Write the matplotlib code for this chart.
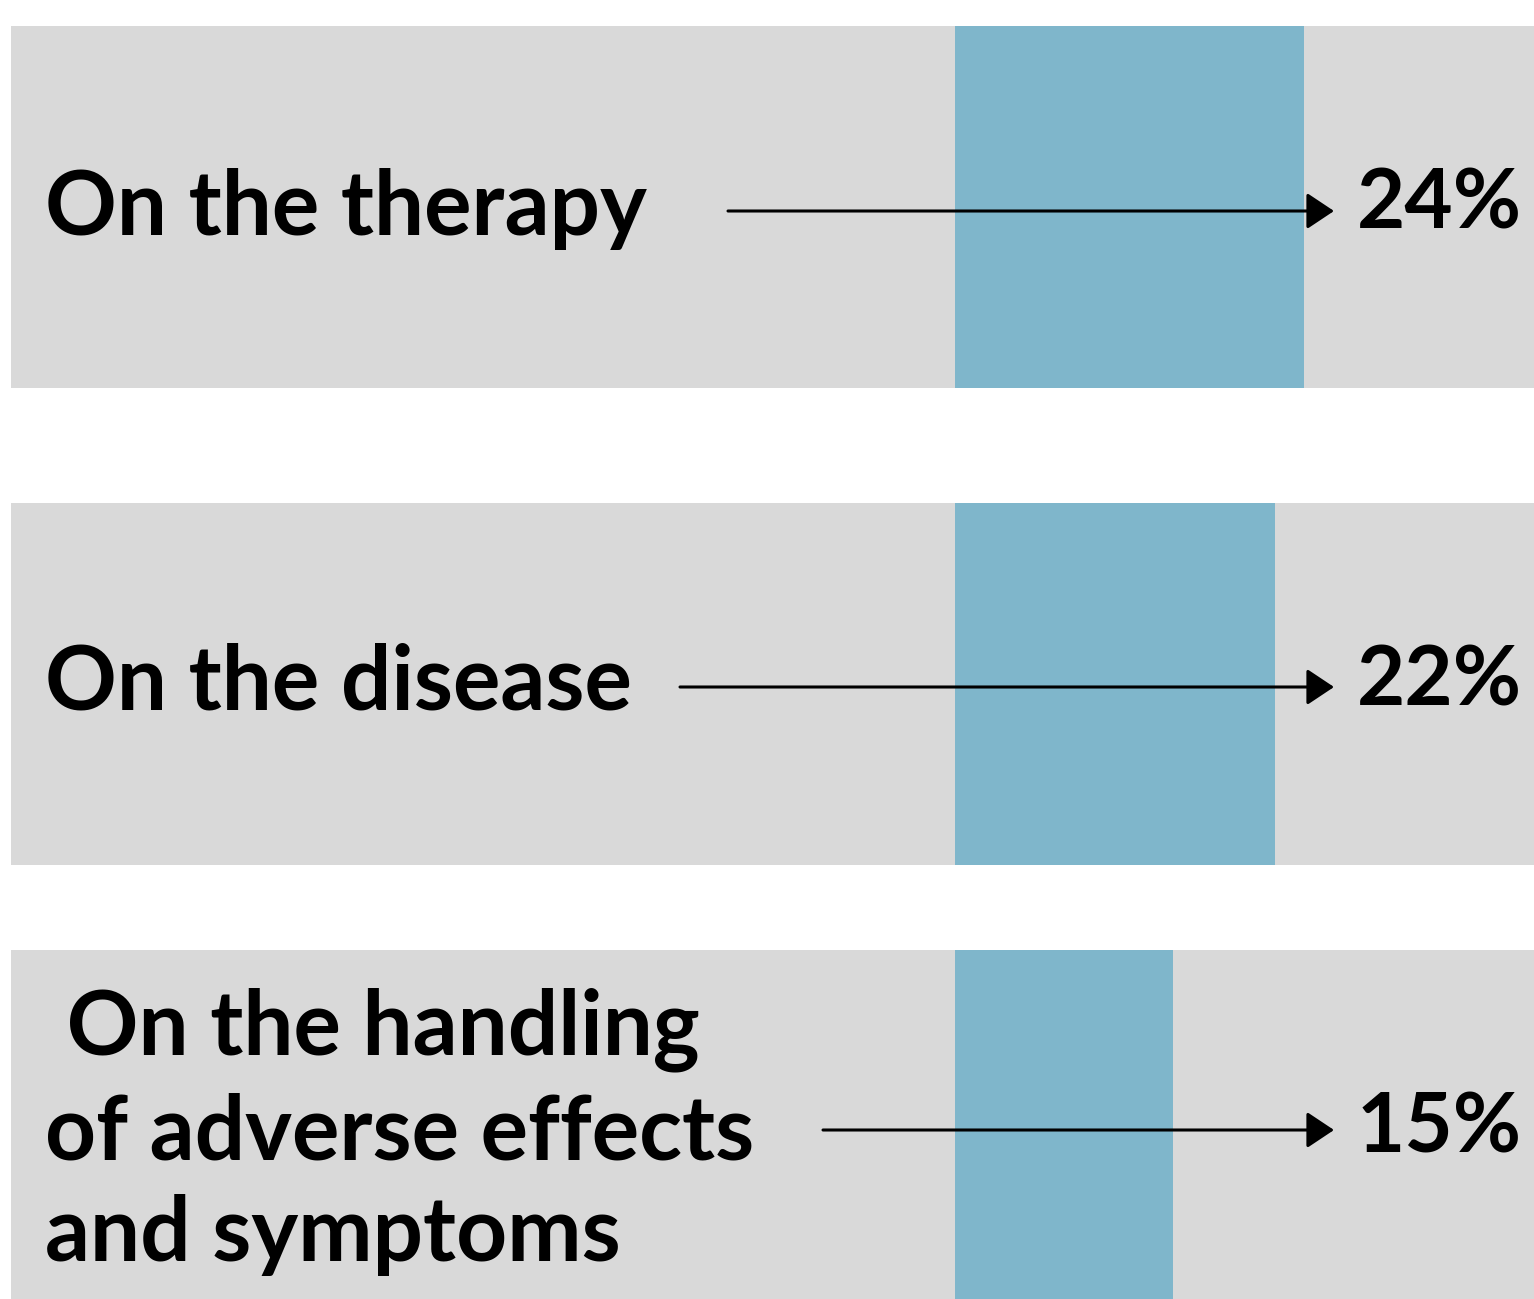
import matplotlib.pyplot as plt

# data
labels = ["On the therapy", "On the disease",
          " On the handling\nof adverse effects\nand symptoms"]
values = [24, 22, 15]
value_labels = ["24%", "22%", "15%"]

# layout (pixel space of a 1534x1299 canvas, 0% sits at x=955)
W, H = 1534, 1299
x0 = 955
px_per_pct = 14.54
row_y = [207, 684, 1131]
row_h = 362
arrow_start = [728, 680, 823]
arrow_dy = [4, 3, -1]
label_dy = [2, -1, 1]

grey = '#d9d9d9'
blue = '#7fb6cb'

plt.rcParams['font.family'] = ['Lato', 'DejaVu Sans']

fig = plt.figure(figsize=(W / 100, H / 100), dpi=100)
ax = fig.add_axes([0, 0, 1, 1])
ax.set_xlim(-x0 / px_per_pct, (W - x0) / px_per_pct)
ax.set_ylim(H, 0)
ax.axis('off')

def px(x):
    return (x - x0) / px_per_pct

# grey bands
ax.barh(row_y, [px(W) - px(11)] * 3, left=px(11), height=row_h, color=grey, lw=0)
# blue bars
ax.barh(row_y, values, left=0, height=row_h, color=blue, lw=0)

for i, lbl in enumerate(labels):
    y = row_y[i]
    ax.text(px(45), y + label_dy[i], lbl, fontsize=64, fontweight='bold', ha='left',
            va='center', linespacing=1.3, color='black')
    ax.annotate('', xy=(px(1334), y + arrow_dy[i]),
                xytext=(px(arrow_start[i]), y + arrow_dy[i]),
                arrowprops=dict(arrowstyle='-|>,head_length=0.42,head_width=0.28',
                                lw=2.2, color='black', mutation_scale=40,
                                shrinkA=0, shrinkB=0))
    ax.text(px(1357), y - 2, value_labels[i], fontsize=60, fontweight='bold',
            ha='left', va='center', color='black')

fig.savefig('out.png', dpi=100, facecolor='white')
